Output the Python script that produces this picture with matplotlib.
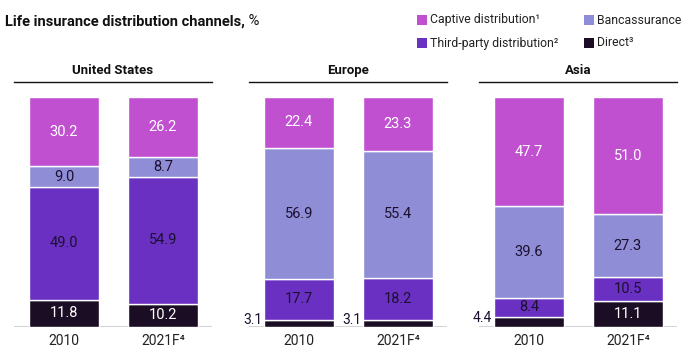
import matplotlib
matplotlib.use("Agg")
import matplotlib.pyplot as plt
from matplotlib.patches import Rectangle
import numpy as np

plt.rcParams['font.family'] = ['Roboto', 'DejaVu Sans']

# data
regions = ['United States', 'Europe', 'Asia']
years = ['2010', '2021F\u2074']
channels = ['Direct\u00b3', 'Third-party distribution\u00b2', 'Bancassurance', 'Captive distribution\u00b9']
direct = {'United States': [11.8, 10.2], 'Europe': [3.1, 3.1], 'Asia': [4.4, 11.1]}
third_party = {'United States': [49.0, 54.9], 'Europe': [17.7, 18.2], 'Asia': [8.4, 10.5]}
banca = {'United States': [9.0, 8.7], 'Europe': [56.9, 55.4], 'Asia': [39.6, 27.3]}
captive = {'United States': [30.2, 26.2], 'Europe': [22.4, 23.3], 'Asia': [47.7, 51.0]}

colors = ['#1b0d24', '#6a30c1', '#8f8dd6', '#c150d1']
txt_colors = ['white', '#1b1030', '#1b1030', 'white']
dark = '#1b1030'

fig = plt.figure(figsize=(6.84, 3.54), dpi=100)

lefts = [14/684, 249/684, 479/684]
w = 198/684
for reg, left in zip(regions, lefts):
    ax = fig.add_axes([left, 0.0763, w, 0.650])
    x = np.arange(len(years))
    bottom = np.zeros(len(years))
    series = [direct[reg], third_party[reg], banca[reg], captive[reg]]
    for vals, c, tc in zip(series, colors, txt_colors):
        vals = np.array(vals)
        ax.bar(x, vals, 0.707, bottom=bottom, color=c, edgecolor='white', linewidth=1)
        for xi, v, b in zip(x, vals, bottom):
            if v < 5:
                ax.text(xi - 0.37, b + v/2 + 1.5, f'{v:.1f}', ha='right', va='center',
                        fontsize=10, color=dark)
            else:
                ax.text(xi, b + v/2, f'{v:.1f}', ha='center', va='center',
                        fontsize=10.5, color=tc)
        bottom = bottom + vals
    ax.set_xlim(-0.505, 1.495)
    ax.set_ylim(0, 100)
    ax.axhline(0, color='#d4d4d8', lw=1.5, zorder=0)
    ax.set_xticks(x)
    ax.set_xticklabels(years, fontsize=10, color='#222222')
    ax.tick_params(axis='x', length=0, pad=5)
    ax.set_yticks([])
    for s in ax.spines.values():
        s.set_visible(False)
    ax.plot([0, 1], [1.065, 1.065], transform=ax.transAxes, color='#111111', lw=1, clip_on=False)
    ax.text(0.5, 1.115, reg, transform=ax.transAxes, ha='center', va='center',
            fontsize=9.5, fontweight='bold', color='#111111')

# title
t = fig.text(0.007, 0.94, 'Life insurance distribution channels,', fontsize=10.5,
             fontweight='bold', color='#111111', va='center')
plt.annotate(' %', xy=(1, 0.5), xycoords=t, va='center', fontsize=10.5, color='#111111')

# legend
leg_pos = [(417, 20), (417, 43), (584, 20), (584, 43)]
leg_order = [3, 1, 2, 0]
for (px, py), i in zip(leg_pos, leg_order):
    fig.patches.append(Rectangle((px/684, 1 - (py + 5)/354), 10/684, 10/354,
                                 transform=fig.transFigure, facecolor=colors[i], edgecolor='none'))
    fig.text((px + 13)/684, 1 - py/354, channels[i], fontsize=8.8, color='#222222', va='center')

fig.savefig('out.png', dpi=100)
